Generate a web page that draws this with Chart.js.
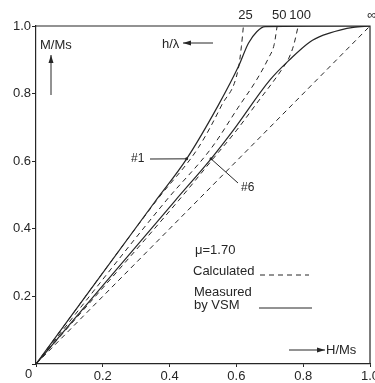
<!DOCTYPE html>
<html>
<head>
<meta charset="utf-8">
<script src="https://cdn.jsdelivr.net/npm/chart.js@4.4.1/dist/chart.umd.min.js"></script>
<style>
  html, body { margin: 0; padding: 0; background: #fff; }
  canvas { display: block; }
</style>
</head>
<body>
<canvas id="chart" width="375" height="383"></canvas>
<script>
// H/Ms (x) and M/Ms (y)
const calc25H  = [0, 0.362, 0.486, 0.556, 0.606, 0.615, 0.621];
const calc25M  = [0, 0.485, 0.640, 0.766, 0.875, 0.940, 1.000];
const calc50H  = [0, 0.391, 0.526, 0.606, 0.660, 0.696, 0.713, 0.722];
const calc50M  = [0, 0.485, 0.640, 0.760, 0.840, 0.905, 0.945, 1.000];
const calc100H = [0, 0.428, 0.530, 0.601, 0.660, 0.735, 0.757, 0.772, 0.785];
const calc100M = [0, 0.485, 0.607, 0.692, 0.770, 0.870, 0.905, 0.945, 1.000];
const calcInfH = [0, 1.0];
const calcInfM = [0, 1.0];

const meas1H = [0, 0.356, 0.451, 0.546, 0.606, 0.636, 0.661, 0.686, 1.0];
const meas1M = [0, 0.480, 0.607, 0.766, 0.880, 0.949, 0.983, 0.998, 1.0];
const meas6H = [0, 0.418, 0.524, 0.591, 0.700, 0.760, 0.820, 0.860, 0.910, 0.950, 1.0];
const meas6M = [0, 0.485, 0.607, 0.692, 0.840, 0.901, 0.953, 0.973, 0.988, 0.996, 1.0];

const curveLabels = ['25', '50', '100', '\u221e'];
const xTickValues = [0, 0.2, 0.4, 0.6, 0.8, 1.0];
const yTickValues = [0, 0.2, 0.4, 0.6, 0.8, 1.0];

const INK = '#262626';
Chart.defaults.font.family = "'Liberation Sans', Arial, Helvetica, sans-serif";
Chart.defaults.font.size = 13;
Chart.defaults.color = INK;

const pts = (h, m) => h.map((v, i) => ({ x: v, y: m[i] }));

function line(data, dashed) {
    return {
        data,
        showLine: true,
        borderColor: INK,
        borderWidth: dashed ? 1 : 1.2,
        borderDash: dashed ? [5, 4] : [],
        pointRadius: 0,
        cubicInterpolationMode: 'monotone',
        fill: false
    };
}

function arrow(ctx, x1, y1, x2, y2) {
    const a = Math.atan2(y2 - y1, x2 - x1);
    ctx.beginPath();
    ctx.moveTo(x1, y1);
    ctx.lineTo(x2, y2);
    ctx.stroke();
    ctx.beginPath();
    ctx.moveTo(x2, y2);
    ctx.lineTo(x2 - 8 * Math.cos(a) + 2.5 * Math.sin(a), y2 - 8 * Math.sin(a) - 2.5 * Math.cos(a));
    ctx.lineTo(x2 - 8 * Math.cos(a) - 2.5 * Math.sin(a), y2 - 8 * Math.sin(a) + 2.5 * Math.cos(a));
    ctx.closePath();
    ctx.fill();
}

// frame, curve labels and the hand-lettered notes
const notes = {
    id: 'notes',
    afterDraw(chart) {
        const { ctx, chartArea: a, scales: { x, y } } = chart;
        ctx.save();
        ctx.strokeStyle = INK;
        ctx.fillStyle = INK;
        ctx.lineWidth = 1.2;
        ctx.beginPath();
        ctx.moveTo(a.left, a.top);
        ctx.lineTo(a.right, a.top);
        ctx.lineTo(a.right, a.bottom);
        ctx.stroke();

        ctx.font = "13px 'Liberation Sans', Arial, sans-serif";
        ctx.textBaseline = 'middle';

        // h/lambda labels at the top of each calculated curve
        ctx.textAlign = 'center';
        const tops = [calc25H, calc50H, calc100H, calcInfH];
        tops.forEach((h, i) => {
            ctx.fillText(curveLabels[i], x.getPixelForValue(h[h.length - 1]) + 2, 15);
        });

        ctx.textAlign = 'left';
        ctx.fillText('M/Ms', 40, 45);
        ctx.lineWidth = 1;
        arrow(ctx, 51, 95, 51, 55);

        ctx.fillText('h/\u03bb', 162, 44);
        arrow(ctx, 213, 43, 183, 43);

        // sample markers
        ctx.font = "12px 'Liberation Sans', Arial, sans-serif";
        ctx.fillText('#1', 131, 159);
        const p1x = x.getPixelForValue(meas1H[2]), p1y = y.getPixelForValue(meas1M[2]);
        ctx.beginPath(); ctx.moveTo(150, 159); ctx.lineTo(p1x, p1y); ctx.stroke();
        ctx.beginPath(); ctx.arc(p1x, p1y, 1.5, 0, Math.PI * 2); ctx.fill();

        ctx.fillText('#6', 241, 188);
        const p6x = x.getPixelForValue(meas6H[2]), p6y = y.getPixelForValue(meas6M[2]);
        ctx.beginPath(); ctx.moveTo(p6x, p6y); ctx.lineTo(238, 183); ctx.stroke();
        ctx.beginPath(); ctx.arc(p6x, p6y, 1.5, 0, Math.PI * 2); ctx.fill();

        // legend block
        ctx.font = "13px 'Liberation Sans', Arial, sans-serif";
        ctx.fillText('\u03bc=1.70', 195, 250);
        ctx.fillText('Calculated', 193, 271);
        ctx.fillText('Measured', 194, 292);
        ctx.fillText('by VSM', 194, 305);
        ctx.setLineDash([5, 4]);
        ctx.beginPath(); ctx.moveTo(260, 275); ctx.lineTo(309, 275); ctx.stroke();
        ctx.setLineDash([]);
        ctx.beginPath(); ctx.moveTo(259, 308); ctx.lineTo(312, 308); ctx.stroke();

        ctx.fillText('H/Ms', 326, 350);
        arrow(ctx, 289, 350, 325, 350);

        ctx.fillText('0', 25, 374);
        ctx.restore();
    }
};

new Chart(document.getElementById('chart'), {
    type: 'scatter',
    data: {
        datasets: [
            line(pts(calc25H, calc25M), true),
            line(pts(calc50H, calc50M), true),
            line(pts(calc100H, calc100M), true),
            line(pts(calcInfH, calcInfM), true),
            line(pts(meas1H, meas1M), false),
            line(pts(meas6H, meas6M), false)
        ]
    },
    options: {
        responsive: false,
        animation: false,
        devicePixelRatio: 1,
        layout: { padding: { top: 26, right: 5, left: 0, bottom: 0 } },
        plugins: { legend: { display: false }, tooltip: { enabled: false } },
        scales: {
            x: {
                type: 'linear',
                min: 0, max: 1,
                afterBuildTicks: s => { s.ticks = xTickValues.map(v => ({ value: v })); },
                afterFit: s => { s.height = 19; s.paddingLeft = 0; s.paddingRight = 0; },
                ticks: {
                    callback: v => (v === 0 ? '' : v.toFixed(1)),
                    padding: 2,
                    maxRotation: 0,
                    autoSkip: false
                },
                grid: { drawOnChartArea: false, drawTicks: true, tickLength: 3, color: INK },
                border: { display: true, color: INK, width: 1.2 }
            },
            y: {
                type: 'linear',
                min: 0, max: 1,
                afterBuildTicks: s => { s.ticks = yTickValues.map(v => ({ value: v })); },
                afterFit: s => { s.width = 36; s.paddingTop = 0; s.paddingBottom = 0; },
                ticks: {
                    callback: v => (v === 0 ? '' : v.toFixed(1)),
                    padding: 1,
                    autoSkip: false
                },
                grid: { drawOnChartArea: false, drawTicks: true, tickLength: 4, color: INK },
                border: { display: true, color: INK, width: 1.2 }
            }
        }
    },
    plugins: [notes]
});
</script>
</body>
</html>
